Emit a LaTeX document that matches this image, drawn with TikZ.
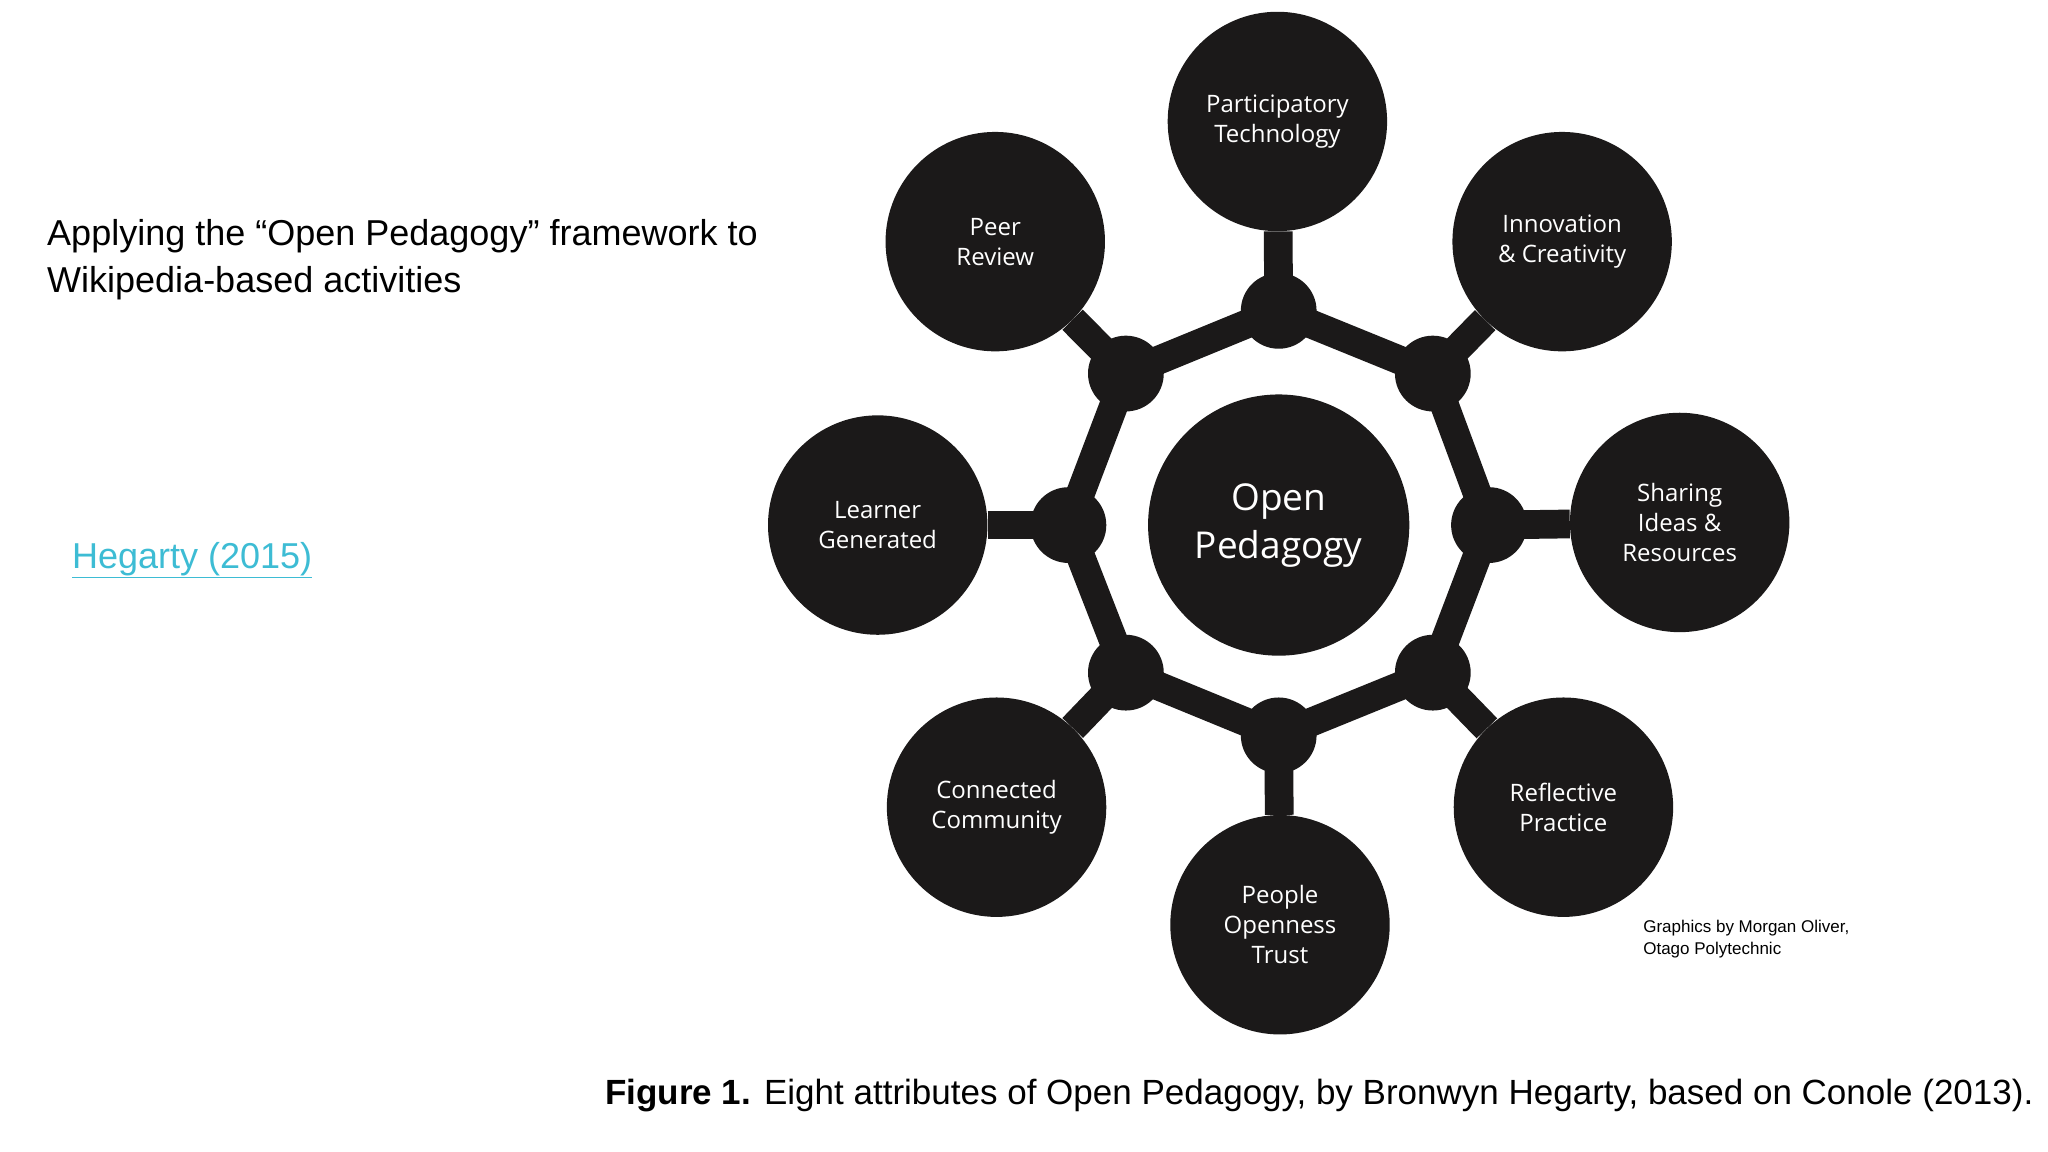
\documentclass[tikz,border=0pt]{standalone}
\usepackage{fontspec}
\setmainfont{Liberation Sans}
\newfontfamily\circfont{Open Sans}
\definecolor{dk}{HTML}{1B1919}
\definecolor{lnk}{HTML}{3DBCD4}
\begin{document}
\begin{tikzpicture}[x=1.306pt,y=-1.306pt,
  outer/.style={circle,fill=dk,minimum size=168*1.306pt,inner sep=0pt,text=white,align=center,font=\circfont\fontsize{24}{30}\selectfont},
  hub/.style={circle,fill=dk,minimum size=58*1.306pt,inner sep=0pt},
  bar/.style={draw=dk,line width=22*1.306pt}]
\useasboundingbox (0,0) rectangle (1568,882);
\fill[white] (0,0) rectangle (1568,882);
% junctions
\node[hub] (j1) at (979,238) {};
\node[hub] (j2) at (1097,286) {};
\node[hub] (j3) at (1140,402) {};
\node[hub] (j4) at (1097,515) {};
\node[hub] (j5) at (979,563) {};
\node[hub] (j6) at (862,515) {};
\node[hub] (j7) at (818,402) {};
\node[hub] (j8) at (862,286) {};
\draw[bar] (j1.center)--(j2.center)--(j3.center)--(j4.center)--(j5.center)--(j6.center)--(j7.center)--(j8.center)--cycle;
\node[outer] (a) at (978,93) {Participatory\\Technology};
\node[outer] (b) at (1196,185) {Innovation\\\& Creativity};
\node[outer] (c) at (1286,400) {Sharing\\Ideas \&\\Resources};
\node[outer] (d) at (1197,618) {Reflective\\Practice};
\node[outer] (e) at (980,708) {People\\Openness\\Trust};
\node[outer] (f) at (763,618) {Connected\\Community};
\node[outer] (g) at (672,402) {Learner\\Generated};
\node[outer] (h) at (762,185) {Peer\\Review};
\foreach \o/\j in {a/j1,b/j2,c/j3,d/j4,e/j5,f/j6,g/j7,h/j8} \draw[bar] (\o)--(\j.center);
\node[circle,fill=dk,minimum size=200*1.306pt,text=white,align=center,font=\circfont\fontsize{37}{48}\selectfont] (ctr) at (979,402) {Open\\Pedagogy};
\node[anchor=north west,align=left,font=\fontsize{36}{47}\selectfont,inner sep=0pt] (t) at (36,168) {Applying the “Open Pedagogy” framework to\\Wikipedia-based activities};
\node[anchor=west,inner sep=0pt,text=lnk,font=\fontsize{36}{44}\selectfont] (l) at (55,429) {\underline{Hegarty (2015)}};
\node[anchor=north west,align=left,inner sep=0pt,font=\fontsize{17}{22}\selectfont] (cr) at (1258,704) {Graphics by Morgan Oliver,\\Otago Polytechnic};
\node[anchor=east,inner sep=0pt,font=\fontsize{35}{40}\selectfont] (cap) at (1557,839) {\textbf{Figure 1.} Eight attributes of Open Pedagogy, by Bronwyn Hegarty, based on Conole (2013).};
\end{tikzpicture}
\end{document}
